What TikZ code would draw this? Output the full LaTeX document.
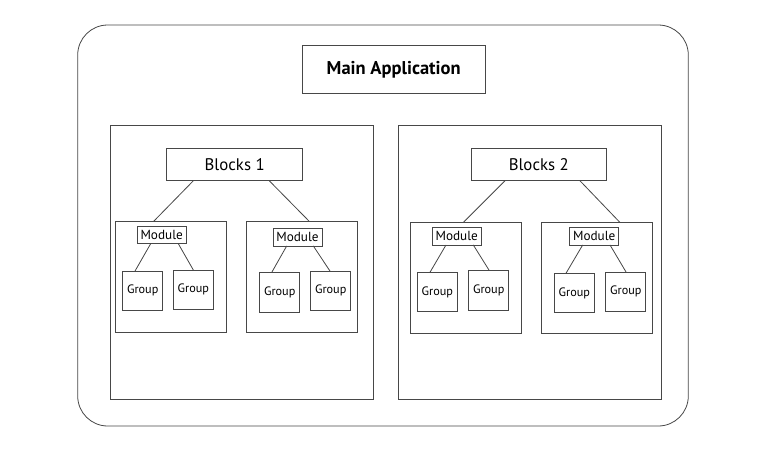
\documentclass[tikz,border=0pt]{standalone}
\usepackage{fontspec}
\setmainfont{PT Sans}
\begin{document}
\begin{tikzpicture}[x=1pt,y=-1pt,
  line width=0.8pt,
  every node/.style={inner sep=0pt,outer sep=0pt},
  ln/.style={draw=black!72,line width=0.8pt},
  outerbox/.style={ln,rounded corners=30pt},
  mainbox/.style={ln,minimum width=182.7pt,minimum height=47.6pt,font=\fontsize{18.5}{20}\selectfont\bfseries},
  blockarea/.style={ln,minimum width=263.5pt,minimum height=273.6pt},
  blocklabel/.style={ln,minimum width=135.8pt,minimum height=32.6pt,font=\fontsize{16.8}{18}\selectfont},
  modulearea/.style={ln,minimum width=111pt,minimum height=111pt},
  modulelabel/.style={ln,minimum width=49pt,minimum height=17.5pt,font=\fontsize{13.2}{15}\selectfont},
  groupbox/.style={ln,minimum width=40pt,minimum height=39.5pt,font=\fontsize{12.2}{13}\selectfont},
  conn/.style={draw=black!72,line width=0.8pt}
]
\useasboundingbox (0,0) rectangle (759,453);

\node[outerbox,minimum width=610.6pt,minimum height=401pt] (outer) at (383,225.5) {};
\node[mainbox] (main) at (393.7,69.5) {Main Application};

% Blocks areas
\node[blockarea] (b1area) at (241.7,262.5) {};
\node[blockarea] (b2area) at (529.7,262.5) {};

\node[blocklabel] (b1) at (234.7,164.5) {Blocks 1};
\node[blocklabel] (b2) at (538.8,164.5) {Blocks 2};

% Module areas
\node[modulearea] (m1a) at (171.2,277.2) {};
\node[modulearea] (m1b) at (301.7,276.9) {};
\node[modulearea] (m2a) at (466.2,277.5) {};
\node[modulearea] (m2b) at (596.7,278) {};

% Module labels
\node[modulelabel] (l1a) at (161.7,234.9) {Module};
\node[modulelabel] (l1b) at (297.5,237.2) {Module};
\node[modulelabel] (l2a) at (456.7,236.2) {Module};
\node[modulelabel] (l2b) at (594.2,236.2) {Module};

% Groups
\node[groupbox] (g1a1) at (142.7,290.8) {Group};
\node[groupbox] (g1a2) at (193.3,289.7) {Group};
\node[groupbox] (g1b1) at (279.7,292.2) {Group};
\node[groupbox] (g1b2) at (330.7,290.8) {Group};
\node[groupbox] (g2a1) at (437.3,292.0) {Group};
\node[groupbox] (g2a2) at (488.7,290.3) {Group};
\node[groupbox] (g2b1) at (574.3,293.0) {Group};
\node[groupbox] (g2b2) at (625.8,291.7) {Group};

% Blocks -> modules
\draw[conn] ([xshift=-41.4pt]b1.south) -- ([xshift=-17.9pt]m1a.north);
\draw[conn] ([xshift=34.6pt]b1.south) -- ([xshift=7.6pt]m1b.north);
\draw[conn] ([xshift=-33.8pt]b2.south) -- ([xshift=-2.5pt]m2a.north);
\draw[conn] ([xshift=41.2pt]b2.south) -- ([xshift=23.3pt]m2b.north);

% Module -> groups
\draw[conn] ([xshift=-11pt]l1a.south) -- ([xshift=-7.7pt]g1a1.north);
\draw[conn] ([xshift=16.6pt]l1a.south) -- (g1a2.north);
\draw[conn] ([xshift=-10.8pt]l1b.south) -- ([xshift=-8pt]g1b1.north);
\draw[conn] ([xshift=15.8pt]l1b.south) -- ([xshift=-0.7pt]g1b2.north);
\draw[conn] ([xshift=-10.7pt]l2a.south) -- ([xshift=-7.3pt]g2a1.north);
\draw[conn] ([xshift=16.6pt]l2a.south) -- ([xshift=0.6pt]g2a2.north);
\draw[conn] ([xshift=-11.5pt]l2b.south) -- ([xshift=-8.3pt]g2b1.north);
\draw[conn] ([xshift=15.8pt]l2b.south) -- ([xshift=0.2pt]g2b2.north);
\end{tikzpicture}
\end{document}
